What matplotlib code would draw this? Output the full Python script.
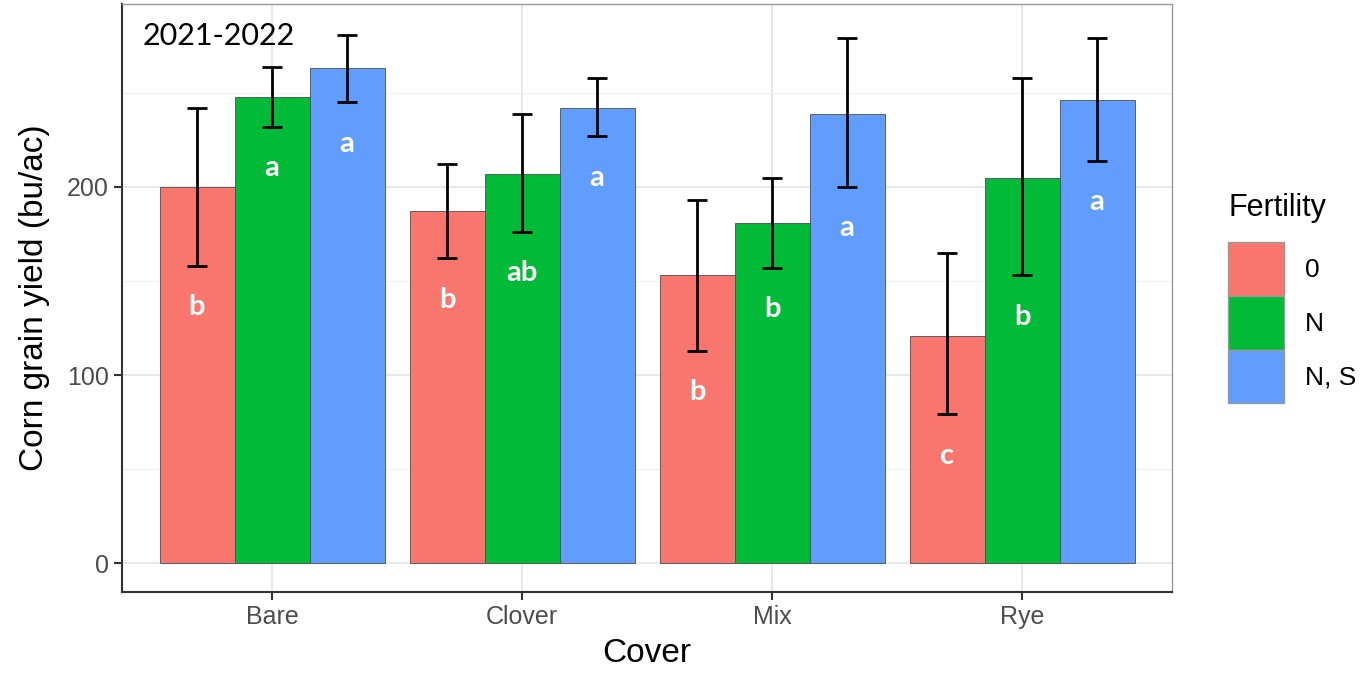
import matplotlib.pyplot as plt
import numpy as np

covers = ["Bare", "Clover", "Mix", "Rye"]
fertility = ["0", "N", "N, S"]
colors = ["#F8766D", "#00BA38", "#619CFF"]

# mean yield and error bar limits per fertility level (order: Bare, Clover, Mix, Rye)
yield_mean = {
    "0": [200, 187, 153, 121],
    "N": [248, 207, 181, 205],
    "N, S": [263, 242, 239, 246],
}
err_low = {
    "0": [158, 162, 113, 79],
    "N": [232, 176, 157, 153],
    "N, S": [245, 227, 200, 214],
}
err_high = {
    "0": [242, 212, 193, 165],
    "N": [264, 239, 205, 258],
    "N, S": [281, 258, 279, 279],
}
letters = {
    "0": ["b", "b", "b", "c"],
    "N": ["a", "ab", "b", "b"],
    "N, S": ["a", "a", "a", "a"],
}

plt.rcParams["font.family"] = ["Liberation Sans", "DejaVu Sans"]

fig = plt.figure(figsize=(13.7, 6.75), dpi=100)
ax = fig.add_axes([122 / 1370, 83 / 675, 1050 / 1370, 588 / 675])

x = np.arange(1, len(covers) + 1)
width = 0.3
for i, f in enumerate(fertility):
    xs = x + (i - 1) * width
    mean = np.array(yield_mean[f])
    lo = np.array(err_low[f])
    hi = np.array(err_high[f])
    ax.bar(xs, mean, width=width, color=colors[i], edgecolor="#4d4d4d",
           linewidth=0.6, zorder=2, label=f)
    ax.errorbar(xs, mean, yerr=[mean - lo, hi - mean], fmt="none",
                ecolor="black", elinewidth=2, capsize=7, capthick=2, zorder=3)
    for xi, l, lab in zip(xs, lo, letters[f]):
        ax.text(xi, l - 22, lab, ha="center", va="center", color="white",
                fontsize=21, fontweight="bold", family=["Lato", "DejaVu Sans"], zorder=4)

ax.set_xlim(0.4, 4.6)
ax.set_ylim(-15.4, 297.3)
ax.set_xticks(x)
ax.set_xticklabels(covers)
ax.set_yticks([0, 100, 200])
ax.set_yticks([50, 150, 250], minor=True)
ax.grid(True, which="major", color="#e6e6e6", linewidth=1.3, zorder=0)
ax.grid(True, which="minor", color="#f0f0f0", linewidth=0.8, zorder=0)
ax.set_axisbelow(True)
ax.tick_params(axis="both", which="major", labelsize=18, labelcolor="#4d4d4d",
               color="#333333", length=6, width=1.5)
ax.tick_params(axis="both", which="minor", length=0)
for side in ["top", "right"]:
    ax.spines[side].set_color("#999999")
    ax.spines[side].set_linewidth(1)
for side in ["left", "bottom"]:
    ax.spines[side].set_color("#333333")
    ax.spines[side].set_linewidth(1.5)

ax.set_xlabel("Cover", fontsize=24, labelpad=6)
ax.set_ylabel("Corn grain yield (bu/ac)", fontsize=24, labelpad=12)

ax.text(0.02, 0.945, "2021-2022", transform=ax.transAxes, fontsize=22,
        ha="left", va="center", family=["Lato", "DejaVu Sans"])

leg = ax.legend(title="Fertility", loc="center left", bbox_to_anchor=(1.031, 0.5),
                frameon=False, fontsize=19, title_fontsize=22,
                handlelength=2.1, handleheight=2.75, labelspacing=0.0,
                handletextpad=0.8)
leg._legend_box.align = "left"
leg._legend_box.sep = 14
for patch in leg.legend_handles:
    patch.set_edgecolor("#999999")
    patch.set_linewidth(1)

fig.savefig("out.png", dpi=100)
